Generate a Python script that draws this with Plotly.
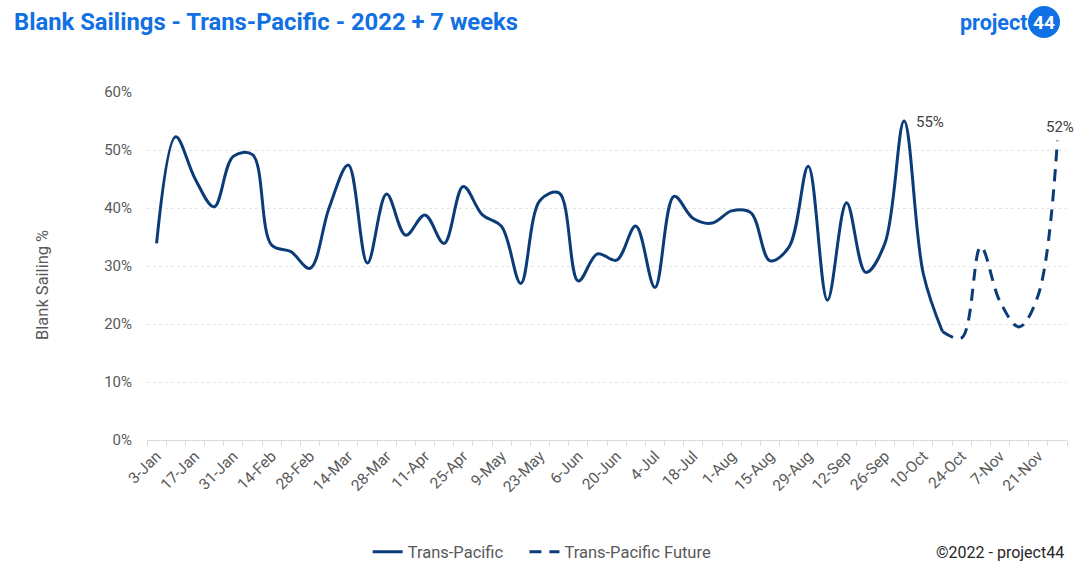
import plotly.graph_objects as go

weeks = ["3-Jan", "10-Jan", "17-Jan", "24-Jan", "31-Jan", "7-Feb", "14-Feb", "21-Feb", "28-Feb",
         "7-Mar", "14-Mar", "21-Mar", "28-Mar", "4-Apr", "11-Apr", "18-Apr", "25-Apr", "2-May",
         "9-May", "16-May", "23-May", "30-May", "6-Jun", "13-Jun", "20-Jun", "27-Jun", "4-Jul",
         "11-Jul", "18-Jul", "25-Jul", "1-Aug", "8-Aug", "15-Aug", "22-Aug", "29-Aug", "5-Sep",
         "12-Sep", "19-Sep", "26-Sep", "3-Oct", "10-Oct", "17-Oct", "24-Oct", "31-Oct", "7-Nov",
         "14-Nov", "21-Nov", "28-Nov"]

trans_pacific = [33.9, 52.3, 45.1, 40.2, 48.9, 49.2, 33.6, 32.5, 29.6, 40.0, 47.4, 30.5, 42.4,
                 35.3, 38.8, 33.9, 43.7, 38.8, 36.8, 27.0, 41.3, 42.6, 27.4, 32.1, 31.0, 36.9,
                 26.3, 42.0, 38.2, 37.4, 39.5, 39.2, 30.9, 33.3, 47.2, 24.1, 40.9, 28.9, 33.9,
                 55.0, 28.7, 18.7]

future_weeks = weeks[41:]
trans_pacific_future = [18.7, 17.6, 33.3, 23.9, 19.5, 25.0, 51.6]

tick_text = [w if i % 2 == 0 else "" for i, w in enumerate(weeks)]
y_ticks = [0, 10, 20, 30, 40, 50, 60]

NAVY = "#0b3c78"
BLUE = "#1170e4"
GRAY = "#595959"

# plot area in pixels
L, R, T, B = 147, 1067, 92, 440
W, H = R - L, B - T
def px(x):
    return (x - L) / W
def py(y):
    return (B - y) / H

fig = go.Figure()
fig.add_trace(go.Scatter(
    x=weeks[:len(trans_pacific)], y=trans_pacific, mode="lines",
    name="Trans-Pacific\u00a0\u00a0\u00a0\u00a0",
    line=dict(color=NAVY, width=3, shape="spline", smoothing=1.0),
))
fig.add_trace(go.Scatter(
    x=future_weeks, y=trans_pacific_future, mode="lines", name="Trans-Pacific Future",
    line=dict(color=NAVY, width=3, shape="spline", smoothing=1.0, dash="12px,8px"),
))

# data labels
peak_i = trans_pacific.index(max(trans_pacific))
annotations = [
    dict(x=weeks[peak_i], y=trans_pacific[peak_i], xref="x", yref="y",
         text=f"{trans_pacific[peak_i]:.0f}%", showarrow=False, xanchor="left", yanchor="middle",
         xshift=10, yshift=-1, font=dict(family="Roboto", size=15, color="#404040")),
    dict(x=future_weeks[-1], y=trans_pacific_future[-1], xref="x", yref="y",
         text=f"{trans_pacific_future[-1]:.0f}%", showarrow=False, xanchor="center", yanchor="bottom",
         xshift=3, yshift=3, font=dict(family="Roboto", size=15, color="#404040")),
    dict(x=px(12), y=py(22), xref="paper", yref="paper", xanchor="left", yanchor="middle",
         text="<b>Blank Sailings - Trans-Pacific - 2022 + 7 weeks</b>", showarrow=False,
         font=dict(family="Roboto", size=23.8, color=BLUE)),
    dict(x=px(42), y=py(285), xref="paper", yref="paper", xanchor="center", yanchor="middle",
         text="Blank Sailing %", textangle=-90, showarrow=False,
         font=dict(family="Roboto", size=16.5, color=GRAY)),
    dict(x=px(1000), y=py(552), xref="paper", yref="paper", xanchor="center", yanchor="middle",
         text="©2022 - project44", showarrow=False,
         font=dict(family="Roboto", size=16, color="#262626")),
    dict(x=px(1029), y=py(22), xref="paper", yref="paper", xanchor="right", yanchor="middle",
         text="<b>project</b>", showarrow=False,
         font=dict(family="Roboto", size=21.5, color=BLUE)),
    dict(x=px(1044), y=py(22), xref="paper", yref="paper", xanchor="center", yanchor="middle",
         text="<b>44</b>", showarrow=False,
         font=dict(family="Roboto", size=19, color="white")),
]

fig.add_shape(type="circle", xref="paper", yref="paper",
              x0=px(1028), x1=px(1060), y0=py(38), y1=py(6),
              fillcolor=BLUE, line=dict(width=0), layer="below")

fig.update_layout(
    width=1080, height=575,
    margin=dict(l=L, r=1080 - R, t=T, b=575 - B),
    paper_bgcolor="white", plot_bgcolor="white",
    font=dict(family="Roboto", color=GRAY),
    annotations=annotations,
    showlegend=True,
    legend=dict(orientation="h", xref="container", yref="container", x=0.502, y=1 - 552 / 575,
                xanchor="center", yanchor="middle", font=dict(size=16.5, color=GRAY),
                itemwidth=30, tracegroupgap=0),
)
fig.update_xaxes(
    type="category", categoryorder="array", categoryarray=weeks,
    tickmode="array", tickvals=weeks, ticktext=tick_text, tickangle=-45,
    tickson="boundaries", ticks="outside", ticklen=5, tickcolor="#d9d9d9",
    showline=True, linecolor="#d9d9d9", linewidth=1, showgrid=False,
    tickfont=dict(size=15.5, color=GRAY), range=[-0.5, len(weeks) - 0.5],
)
fig.update_yaxes(
    range=[0, 60], tickvals=y_ticks, ticktext=[f"{v}%" for v in y_ticks],
    showgrid=True, gridcolor="#e3e3e3", griddash="dot", gridwidth=1,
    zeroline=False, ticks="", ticklabelstandoff=14,
    tickfont=dict(size=15, color=GRAY),
)

fig.write_html("out.html")
